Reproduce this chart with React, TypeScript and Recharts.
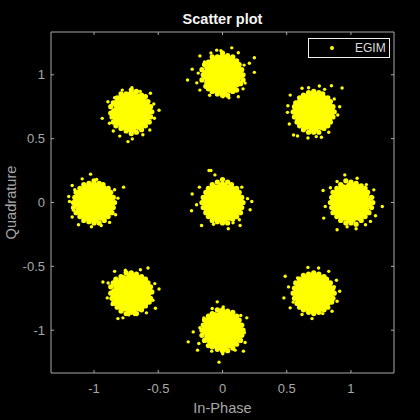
import { ScatterChart, Scatter, XAxis, YAxis, Legend } from 'recharts';

const axisTicks = [-1, -0.5, 0, 0.5, 1];
const axisLimit = 1.335;
const seriesName = 'EGIM';

// Overplotted middle of each symbol cloud, read as a few heavy points
const coreTop = [[0, 1], [.06, 1], [.03, 1.05], [-.03, 1.05], [-.06, 1], [-.03, .95], [.03, .95], [.12, 1], [.1, 1.06], [.06, 1.1], [0, 1.12], [-.06, 1.1], [-.1, 1.06], [-.12, 1], [-.1, .94], [-.06, .9], [0, .88], [.06, .9], [.1, .94]];
const coreUpLeft = [[-.71, .71], [-.65, .71], [-.68, .76], [-.74, .77], [-.77, .71], [-.74, .66], [-.68, .66], [-.59, .72], [-.61, .77], [-.65, .81], [-.71, .83], [-.77, .81], [-.81, .77], [-.83, .7], [-.81, .65], [-.77, .61], [-.71, .59], [-.65, .61], [-.61, .65]];
const coreLeft = [[-1, 0], [-.94, 0], [-.97, .05], [-1.03, .05], [-1.06, 0], [-1.03, -.05], [-.97, -.05], [-.88, -.01], [-.9, .06], [-.94, .1], [-1, .12], [-1.06, .1], [-1.1, .06], [-1.12, 0], [-1.1, -.06], [-1.06, -.1], [-1, -.12], [-.94, -.1], [-.9, -.06]];
const coreLowLeft = [[-.71, -.71], [-.65, -.71], [-.68, -.66], [-.74, -.66], [-.77, -.71], [-.74, -.76], [-.68, -.76], [-.59, -.7], [-.61, -.65], [-.65, -.61], [-.71, -.59], [-.77, -.61], [-.81, -.65], [-.83, -.71], [-.81, -.77], [-.77, -.81], [-.71, -.83], [-.65, -.81], [-.61, -.77]];
const coreBottom = [[0, -1], [.06, -1], [.03, -.95], [-.03, -.95], [-.06, -1], [-.03, -1.05], [.03, -1.05], [.12, -1], [.1, -.94], [.06, -.9], [0, -.88], [-.06, -.9], [-.1, -.94], [-.12, -1], [-.1, -1.06], [-.06, -1.1], [0, -1.12], [.06, -1.1], [.1, -1.06]];
const coreLowRight = [[.71, -.71], [.77, -.71], [.74, -.66], [.68, -.66], [.65, -.71], [.68, -.76], [.74, -.76], [.83, -.7], [.81, -.65], [.77, -.61], [.71, -.59], [.65, -.61], [.61, -.65], [.59, -.71], [.61, -.77], [.65, -.81], [.71, -.83], [.77, -.81], [.81, -.77]];
const coreRight = [[1, 0], [1.06, 0], [1.03, .05], [.97, .05], [.94, 0], [.97, -.05], [1.03, -.05], [1.12, 0], [1.1, .06], [1.06, .1], [1, .12], [.94, .1], [.9, .06], [.88, 0], [.9, -.06], [.94, -.1], [1, -.12], [1.06, -.1], [1.1, -.06]];
const coreUpRight = [[.71, .71], [.77, .71], [.74, .76], [.68, .76], [.65, .71], [.68, .66], [.74, .66], [.83, .71], [.81, .77], [.77, .81], [.71, .83], [.65, .81], [.61, .77], [.59, .71], [.61, .65], [.65, .61], [.71, .59], [.77, .61], [.81, .65]];
const coreMiddle = [[0, 0], [.06, 0], [.03, .05], [-.03, .05], [-.06, 0], [-.03, -.05], [.03, -.05], [.12, 0], [.1, .06], [.06, .1], [0, .12], [-.06, .1], [-.1, .06], [-.12, 0], [-.1, -.06], [-.06, -.1], [0, -.12], [.06, -.1], [.1, -.06]];

// Ragged outline of each cloud
const rimTop = [[.16, 1], [.15, 1.04], [.13, 1.08], [.11, 1.11], [.08, 1.14], [.04, 1.15], [0, 1.17], [-.04, 1.14], [-.08, 1.14], [-.11, 1.1], [-.14, 1.08], [-.16, 1.04], [-.15, 1], [-.16, .96], [-.13, .91], [-.11, .89], [-.08, .87], [-.04, .85], [0, .84], [.04, .84], [.08, .87], [.11, .88], [.14, .93], [.16, .96]];
const rimUpLeft = [[-.55, .71], [-.56, .75], [-.58, .79], [-.6, .83], [-.63, .84], [-.67, .87], [-.71, .88], [-.75, .85], [-.79, .85], [-.82, .82], [-.85, .78], [-.87, .75], [-.87, .7], [-.86, .67], [-.85, .63], [-.83, .6], [-.79, .58], [-.75, .56], [-.71, .54], [-.67, .55], [-.63, .57], [-.6, .6], [-.57, .63], [-.56, .67]];
const rimLeft = [[-.84, 0], [-.85, .04], [-.87, .08], [-.89, .11], [-.93, .14], [-.96, .15], [-1, .17], [-1.04, .15], [-1.08, .14], [-1.11, .11], [-1.14, .08], [-1.15, .04], [-1.16, 0], [-1.16, -.04], [-1.14, -.08], [-1.11, -.11], [-1.08, -.14], [-1.04, -.15], [-1, -.16], [-.96, -.16], [-.92, -.14], [-.89, -.11], [-.86, -.08], [-.85, -.04]];
const rimLowLeft = [[-.55, -.7], [-.56, -.66], [-.58, -.63], [-.6, -.6], [-.63, -.58], [-.67, -.56], [-.71, -.55], [-.75, -.55], [-.79, -.58], [-.83, -.6], [-.85, -.63], [-.87, -.66], [-.87, -.71], [-.86, -.75], [-.85, -.79], [-.82, -.82], [-.79, -.85], [-.75, -.87], [-.71, -.86], [-.67, -.87], [-.63, -.84], [-.6, -.81], [-.57, -.78], [-.56, -.75]];
const rimBottom = [[.16, -1], [.15, -.96], [.13, -.92], [.11, -.89], [.08, -.86], [.04, -.85], [0, -.84], [-.04, -.84], [-.08, -.87], [-.11, -.89], [-.14, -.92], [-.15, -.96], [-.16, -1], [-.16, -1.04], [-.14, -1.08], [-.11, -1.12], [-.08, -1.13], [-.04, -1.15], [0, -1.16], [.04, -1.16], [.08, -1.14], [.11, -1.11], [.14, -1.08], [.15, -1.04]];
const rimLowRight = [[.87, -.71], [.86, -.67], [.84, -.63], [.81, -.6], [.79, -.58], [.75, -.56], [.71, -.55], [.67, -.56], [.63, -.57], [.6, -.6], [.57, -.63], [.56, -.67], [.55, -.71], [.56, -.75], [.58, -.79], [.6, -.82], [.63, -.84], [.67, -.86], [.71, -.87], [.75, -.86], [.79, -.84], [.82, -.82], [.85, -.78], [.86, -.75]];
const rimRight = [[1.17, 0], [1.16, .04], [1.13, .08], [1.11, .11], [1.08, .13], [1.04, .15], [1, .16], [.96, .17], [.92, .14], [.89, .11], [.86, .08], [.85, .04], [.84, 0], [.85, -.04], [.86, -.08], [.89, -.11], [.92, -.14], [.96, -.16], [1, -.16], [1.04, -.17], [1.08, -.14], [1.11, -.11], [1.14, -.08], [1.16, -.04]];
const rimUpRight = [[.87, .71], [.86, .75], [.84, .79], [.82, .82], [.78, .85], [.75, .86], [.71, .87], [.67, .86], [.63, .84], [.6, .82], [.57, .78], [.56, .75], [.55, .71], [.56, .67], [.58, .63], [.6, .6], [.63, .57], [.67, .55], [.71, .55], [.75, .55], [.79, .58], [.82, .6], [.84, .63], [.86, .67]];
const rimMiddle = [[.16, 0], [.15, .04], [.13, .08], [.11, .11], [.07, .14], [.04, .16], [0, .18], [-.04, .16], [-.08, .14], [-.11, .11], [-.13, .08], [-.15, .04], [-.16, 0], [-.15, -.04], [-.13, -.08], [-.11, -.11], [-.08, -.14], [-.04, -.15], [0, -.16], [.04, -.16], [.08, -.13], [.11, -.11], [.14, -.08], [.15, -.04]];

// Stray samples around each cloud
const edgeTop = [[-.272, .959], [-.236, 1.044], [-.176, 1.148], [-.176, .88], [-.2, .937], [-.189, 1.013], [.248, 1.133], [.248, 1.019], [.209, 1.09], [.168, 1.076], [.072, 1.211], [.123, 1.172], [-.045, 1.193], [-.012, 1.188], [.123, .828], [.004, .828], [.176, .935], [-.09, 1.17], [-.14, 1.1], [.16, .89], [-.1, .84], [.05, .82]];
const edgeUpLeft = [[-.736, .477], [-.494, .722], [-.936, .659], [-.892, .789], [-.702, .498], [-.561, .855], [-.535, .771], [-.566, .568], [-.78, .88], [-.705, .898], [-.88, .62], [-.85, .56], [-.8, .52], [-.62, .53], [-.53, .66], [-.64, .87], [-.84, .82]];
const edgeLeft = [[-.77, .12], [-1.027, .222], [-1.092, .185], [-1.17, .133], [-1.197, .047], [-1.191, .008], [-.814, .034], [-1.121, -.174], [-.944, -.18], [-.832, -.096], [-1.17, -.114], [-.879, -.156], [-1.02, -.19], [-.84, .1], [-1.15, .1], [-1.16, -.06], [-.98, .18]];
const edgeLowLeft = [[-.931, -.622], [-.58, -.513], [-.494, -.677], [-.522, -.828], [-.814, -.909], [-.775, -.903], [-.897, -.747], [-.84, -.539], [-.639, -.526], [-.527, -.635], [-.592, -.864], [-.684, -.877], [-.756, -.531], [-.541, -.766], [-.858, -.799], [-.89, -.63], [-.73, -.88]];
const edgeBottom = [[-.027, -1.25], [.163, -1.164], [.098, -1.156], [.189, -.903], [.142, -.885], [-.041, -.778], [.006, -.817], [.176, -1.096], [.002, -1.184], [-.267, -1.091], [-.228, -1.013], [-.194, -1.156], [-.176, -.981], [-.184, -1.104], [-.145, -.903], [-.084, -1.164], [.17, -1.02], [-.08, -.83]];
const edgeLowRight = [[.488, -.578], [.478, -.747], [.527, -.825], [.665, -.508], [.748, -.513], [.827, -.539], [.887, -.609], [.912, -.695], [.853, -.851], [.697, -.909], [.619, -.877], [.514, -.661], [.584, -.591], [.892, -.773], [.78, -.87], [.55, -.78], [.87, -.66]];
const edgeRight = [[.952, .216], [.783, .094], [1.178, .099], [1.244, -.031], [.8, -.031], [.788, -.122], [.892, -.213], [1.04, -.205], [1.152, -.148], [1.113, -.174], [1.191, -.104], [.84, .115], [.892, .164], [1.048, .19], [1.12, .14], [1.17, .04], [.97, -.19]];
const edgeUpRight = [[.931, .896], [.848, .914], [.912, .75], [.509, .758], [.52, .615], [.553, .529], [.584, .521], [.665, .505], [.73, .516], [.77, .511], [.827, .55], [.897, .685], [.527, .841], [.619, .894], [.67, .898], [.754, .912], [.795, .886], [.506, .706], [.87, .81]];
const edgeMiddle = [[-.236, .066], [-.105, .25], [-.163, -.18], [-.241, -.065], [-.09, .25], [-.059, .216], [.228, .008], [.195, .03], [.131, -.135], [.137, -.18], [.045, -.205], [.215, -.057], [.082, -.159], [-.202, -.018], [-.18, .12], [-.07, -.17], [.15, .12]];

const coreClouds = [coreTop, coreUpLeft, coreLeft, coreLowLeft, coreBottom, coreLowRight, coreRight, coreUpRight, coreMiddle];
const rimClouds = [rimTop, rimUpLeft, rimLeft, rimLowLeft, rimBottom, rimLowRight, rimRight, rimUpRight, rimMiddle];
const edgeClouds = [edgeTop, edgeUpLeft, edgeLeft, edgeLowLeft, edgeBottom, edgeLowRight, edgeRight, edgeUpRight, edgeMiddle];

const toPoints = (clouds: number[][][]) => clouds.flat().map(([i, q]) => ({ i, q }));
const corePoints = toPoints(coreClouds);
const rimPoints = toPoints(rimClouds);
const edgePoints = toPoints(edgeClouds);
const noPoints: { i: number; q: number }[] = [];

const YELLOW = '#ffff00';
const GREY = '#a8a8a8';
const FONT = '"Liberation Sans", Arial, sans-serif';

const dot = (r: number) => (props: any) => <circle cx={props.cx} cy={props.cy} r={r} fill={YELLOW} />;

function EgimLegend() {
  return (
    <div style={{ width: 80, height: 18, border: '1px solid #f0f0f0', background: '#000', position: 'relative', fontFamily: FONT, fontSize: 12, color: '#dddddd' }}>
      <svg width={8} height={8} style={{ position: 'absolute', left: 19, top: 5 }}>
        <circle cx={4} cy={4} r={2} fill={YELLOW} />
      </svg>
      <span style={{ position: 'absolute', left: 46, top: 2 }}>{seriesName}</span>
    </div>
  );
}

export default function App() {
  return (
    <div style={{ position: 'absolute', left: 0, top: 0, width: 420, height: 420, background: '#000' }}>
      <div style={{ position: 'absolute', left: 0, width: 445, top: 11, textAlign: 'center', fontFamily: FONT, fontWeight: 'bold', fontSize: 14.5, color: '#f4f4f4' }}>
        Scatter plot
      </div>
      <ScatterChart width={420} height={420} margin={{ top: 31, right: 25, bottom: 17, left: 11 }}>
        <XAxis
          type="number"
          dataKey="i"
          xAxisId="bottom"
          orientation="bottom"
          domain={[-axisLimit, axisLimit]}
          ticks={axisTicks}
          allowDataOverflow
          height={30}
          stroke={GREY}
          tickSize={-3}
          tickMargin={14}
          tick={{ fill: GREY, fontSize: 13, fontFamily: FONT }}
          label={{ value: 'In-Phase', position: 'insideBottom', offset: -10, fill: GREY, fontSize: 14.6, fontFamily: FONT }}
        />
        <XAxis
          type="number"
          dataKey="i"
          xAxisId="top"
          orientation="top"
          domain={[-axisLimit, axisLimit]}
          ticks={axisTicks}
          allowDataOverflow
          height={1}
          stroke={GREY}
          tickSize={-3}
          tickFormatter={() => ''}
        />
        <YAxis
          type="number"
          dataKey="q"
          yAxisId="left"
          orientation="left"
          domain={[-axisLimit, axisLimit]}
          ticks={axisTicks}
          allowDataOverflow
          width={40}
          stroke={GREY}
          tickSize={-3}
          tickMargin={9}
          tick={{ fill: GREY, fontSize: 13, fontFamily: FONT }}
          label={{ value: 'Quadrature', angle: -90, position: 'insideLeft', offset: 0, fill: GREY, fontSize: 14.6, fontFamily: FONT, style: { textAnchor: 'middle' } }}
        />
        <YAxis
          type="number"
          dataKey="q"
          yAxisId="right"
          orientation="right"
          domain={[-axisLimit, axisLimit]}
          ticks={axisTicks}
          allowDataOverflow
          width={1}
          stroke={GREY}
          tickSize={-3}
          tickFormatter={() => ''}
        />
        <Legend
          verticalAlign="middle"
          layout="horizontal"
          content={() => <EgimLegend />}
          wrapperStyle={{ left: 308, top: 38, width: 82, height: 20 }}
        />
        <Scatter name="frame" data={noPoints} xAxisId="top" yAxisId="right" isAnimationActive={false} />
        <Scatter name="core" data={corePoints} xAxisId="bottom" yAxisId="left" shape={dot(5.5)} isAnimationActive={false} />
        <Scatter name="rim" data={rimPoints} xAxisId="bottom" yAxisId="left" shape={dot(2.6)} isAnimationActive={false} />
        <Scatter name={seriesName} data={edgePoints} xAxisId="bottom" yAxisId="left" shape={dot(1.7)} isAnimationActive={false} />
      </ScatterChart>
    </div>
  );
}
